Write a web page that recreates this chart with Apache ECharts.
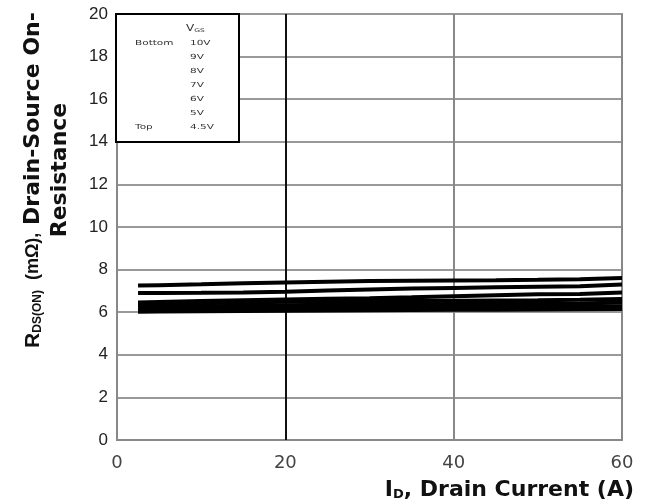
<!DOCTYPE html>
<html><head><meta charset="utf-8">
<script src="https://cdn.jsdelivr.net/npm/echarts@6/dist/echarts.min.js"></script>
<style>html,body{margin:0;padding:0;background:#fff}#c{width:665px;height:504px}</style>
</head><body><div id="c"></div>
<script>
const xVals = [2.5, 5, 10, 15, 20, 25, 30, 35, 40, 45, 50, 55, 60];
const v45 = [7.25, 7.27, 7.31, 7.36, 7.40, 7.43, 7.46, 7.48, 7.49, 7.50, 7.52, 7.55, 7.60];
const v5  = [6.90, 6.90, 6.91, 6.93, 6.96, 7.02, 7.07, 7.11, 7.14, 7.17, 7.20, 7.22, 7.30];
const v6  = [6.45, 6.48, 6.52, 6.56, 6.60, 6.63, 6.66, 6.70, 6.75, 6.80, 6.84, 6.86, 6.92];
const v7  = [6.35, 6.38, 6.42, 6.46, 6.49, 6.51, 6.52, 6.53, 6.54, 6.55, 6.56, 6.58, 6.62];
const v8  = [6.22, 6.24, 6.27, 6.30, 6.33, 6.35, 6.36, 6.37, 6.38, 6.39, 6.40, 6.41, 6.45];
const v9  = [6.10, 6.12, 6.14, 6.16, 6.18, 6.20, 6.21, 6.22, 6.23, 6.24, 6.25, 6.26, 6.28];
const v10 = [6.02, 6.03, 6.04, 6.06, 6.07, 6.08, 6.09, 6.10, 6.11, 6.12, 6.13, 6.14, 6.15];
const seriesNames = ['4.5V', '5V', '6V', '7V', '8V', '9V', '10V'];
const seriesVals = [v45, v5, v6, v7, v8, v9, v10];
const legendRows = [['Bottom', '10V'], ['', '9V'], ['', '8V'], ['', '7V'], ['', '6V'], ['', '5V'], ['Top', '4.5V']];

const chart = echarts.init(document.getElementById('c'), null, {renderer: 'canvas'});
const series = seriesVals.map((vals, i) => ({
  name: seriesNames[i], type: 'line', showSymbol: false, symbol: 'none',
  data: xVals.map((x, j) => [x, vals[j]]),
  lineStyle: {color: '#000', width: 4}, z: 5, silent: true
}));
series[0].markLine = {
  silent: true, symbol: 'none', label: {show: false},
  lineStyle: {color: '#111', width: 2, type: 'solid'},
  data: [{xAxis: 20}]
};

const graphics = [];
graphics.push({type: 'rect', shape: {x: 116, y: 14, width: 123, height: 128},
  style: {fill: '#fff', stroke: '#000', lineWidth: 2}, z: 10});
graphics.push({type: 'text', x: 186, y: 29, z: 11, scaleX: 1.5,
  style: {text: '{v|V}{s|GS}', rich: {v: {fontSize: 8, fontFamily: 'DejaVu Sans', fill: '#333'}, s: {fontSize: 5, fontFamily: 'DejaVu Sans', fill: '#333', verticalAlign: 'bottom', padding: [4, 0, 0, 0]}}, verticalAlign: 'middle'}});
legendRows.forEach((r, i) => {
  const y = 43 + i * 14;
  if (r[0]) graphics.push({type: 'text', x: 135, y: y, z: 11, scaleX: 1.5,
    style: {text: r[0], fontSize: 7, fontFamily: 'DejaVu Sans', fill: '#333', verticalAlign: 'middle'}});
  graphics.push({type: 'text', x: 190, y: y, z: 11, scaleX: 1.5,
    style: {text: r[1], fontSize: 7, fontFamily: 'DejaVu Sans', fill: '#333', verticalAlign: 'middle'}});
});
graphics.push({type: 'text', x: 634, y: 490, z: 11,
  style: {text: '{b|I}{s|D}{b|, Drain Current (A)}', align: 'right', verticalAlign: 'middle',
    rich: {b: {fontSize: 22, fontWeight: 'bold', fontFamily: 'DejaVu Sans', fill: '#111'},
           s: {fontSize: 13, fontWeight: 'bold', fontFamily: 'DejaVu Sans', fill: '#111', padding: [9, 0, 0, 0]}}}});
graphics.push({type: 'text', x: 33, y: 180, rotation: Math.PI / 2, z: 11,
  style: {text: '{r|R}{s|DS(ON)}{m|  (mΩ),}{b| Drain-Source On-}', align: 'center', verticalAlign: 'middle',
    rich: {b: {fontSize: 22, fontWeight: 'bold', fontFamily: 'DejaVu Sans', fill: '#111'},
           r: {fontSize: 21, fontWeight: 'bold', fontFamily: 'Liberation Sans', fill: '#111'},
           m: {fontSize: 18, fontWeight: 'bold', fontFamily: 'Liberation Sans', fill: '#111'},
           s: {fontSize: 12, fontWeight: 'bold', fontFamily: 'Liberation Sans', fill: '#111', padding: [9, 0, 0, 0]}}}});
graphics.push({type: 'text', x: 60, y: 170, rotation: Math.PI / 2, z: 11,
  style: {text: 'Resistance', align: 'center', verticalAlign: 'middle',
    fontSize: 22, fontWeight: 'bold', fontFamily: 'DejaVu Sans', fill: '#111'}});

chart.setOption({
  animation: false,
  backgroundColor: '#fff',
  grid: {left: 117, right: 43, top: 14, bottom: 64, show: true, borderColor: '#999', borderWidth: 2, backgroundColor: 'transparent'},
  xAxis: {type: 'value', min: 0, max: 60, interval: 20,
    axisLine: {show: true, lineStyle: {color: '#888', width: 2}},
    axisTick: {show: false},
    splitLine: {show: true, lineStyle: {color: '#888', width: 2}},
    axisLabel: {fontSize: 18, fontFamily: 'DejaVu Sans', color: '#444', margin: 14}},
  yAxis: {type: 'value', min: 0, max: 20, interval: 2,
    axisLine: {show: true, lineStyle: {color: '#888', width: 2}},
    axisTick: {show: false},
    splitLine: {show: true, lineStyle: {color: '#999', width: 2}},
    axisLabel: {fontSize: 17, fontFamily: 'Liberation Sans', color: '#222', margin: 9}},
  series: series,
  graphic: graphics
});
</script></body></html>
